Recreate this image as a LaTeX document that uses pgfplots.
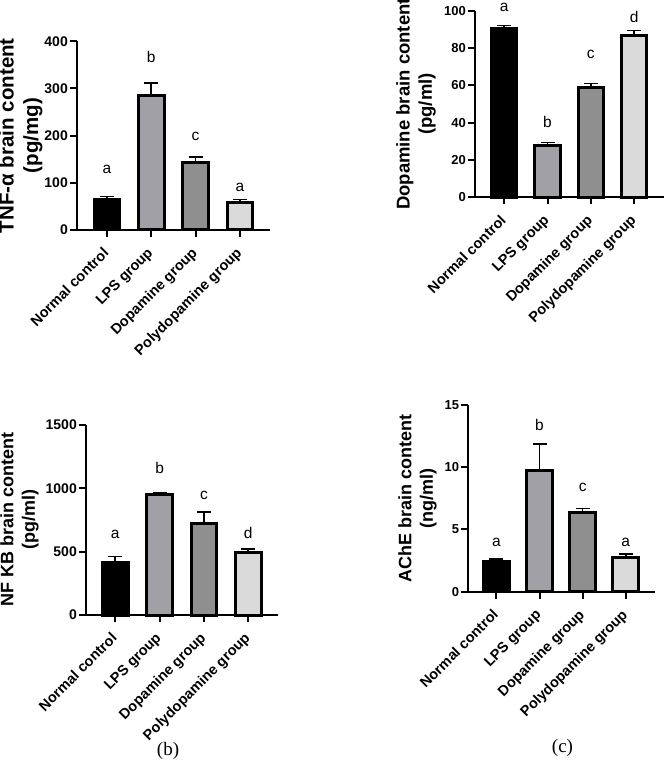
\documentclass[border=0pt]{standalone}
\usepackage{fontspec}
\setmainfont{Liberation Sans}
\newfontfamily\seriffont{Liberation Serif}
\usepackage{pgfplots}
\pgfplotsset{compat=1.18}

\definecolor{barLPS}{RGB}{160,160,166}
\definecolor{barDopa}{RGB}{143,143,143}
\definecolor{barPoly}{RGB}{218,218,218}

\newcommand{\sz}[1]{\fontsize{#1}{1.2\dimexpr #1pt\relax}\selectfont}

\pgfplotsset{
  brainpanel/.style={
    scale only axis,
    anchor=south west,
    clip=false,
    axis x line*=bottom,
    axis y line*=left,
    axis line style={line width=2pt, black, -},
    tick style={line width=2pt, black},
    tick align=outside,
    major tick length=7pt,
    ymin=0,
    xtick={0,1,2,3},
    xticklabels={Normal control, LPS group, Dopamine group, Polydopamine group},
    x tick label style={xshift=-5pt, yshift=-8pt, rotate=45, anchor=north east,
      font=\sz{14.5}\bfseries, inner sep=1pt},
    y tick label style={inner sep=2pt},
    /pgf/number format/assume math mode=true,
    /pgf/number format/1000 sep={},
    scaled y ticks=false,
    ylabel style={anchor=center, align=center},
  },
  grpbar/.style={
    ybar, bar shift=0pt, bar width=25.5pt, draw=black, line width=3pt, fill=#1,
    error bars/y dir=plus,
    error bars/y explicit,
    error bars/error bar style={line width=1.6pt, black},
    error bars/error mark options={rotate=90, mark size=7pt, line width=1.6pt, black},
  },
  letters/.style={
    draw=none, mark=none, nodes near coords, point meta=explicit symbolic,
    nodes near coords style={anchor=base, inner sep=0pt, font=\sz{15.5}, text=black},
  },
}

\begin{document}
\begin{tikzpicture}
\useasboundingbox (0,0) rectangle (664pt,763pt);

% TNF-alpha
\begin{axis}[brainpanel, at={(77pt,533pt)}, width=193pt, height=188.8pt,
  xmin=-0.677, xmax=3.68, ymax=400, ytick={0,100,200,300,400},
  y tick label style={font=\sz{14}\bfseries},
  ylabel={TNF-α brain content\\(pg/mg)},
  ylabel style={at={(axis description cs:-0.292,0.5)}, font=\sz{20.5}\bfseries}]
\addplot[grpbar=black]   coordinates {(0,64) +- (0,7)};
\addplot[grpbar=barLPS]  coordinates {(1,286) +- (0,26)};
\addplot[grpbar=barDopa] coordinates {(2,143) +- (0,12)};
\addplot[grpbar=barPoly] coordinates {(3,58) +- (0,7)};
\addplot[letters] table[meta=lbl] {
x y lbl
0 120 a
1 354 b
2 189 c
3 82.6 a
};
\end{axis}

% Dopamine
\begin{axis}[brainpanel, at={(475pt,565.7pt)}, width=189pt, height=186.6pt,
  xmin=-0.674, xmax=3.69, ymax=100, ytick={0,20,40,60,80,100},
  y tick label style={font=\sz{13}\bfseries},
  ylabel={Dopamine brain content\\(pg/ml)},
  ylabel style={at={(axis description cs:-0.312,0.5)}, font=\sz{18.5}\bfseries}]
\addplot[grpbar=black]   coordinates {(0,90.5) +- (0,1.5)};
\addplot[grpbar=barLPS]  coordinates {(1,27.5) +- (0,1.8)};
\addplot[grpbar=barDopa] coordinates {(2,59) +- (0,2)};
\addplot[grpbar=barPoly] coordinates {(3,86.8) +- (0,2.5)};
\addplot[letters] table[meta=lbl] {
x y lbl
0 99.6 a
1 37.5 b
2 74.5 c
3 93.7 d
};
\end{axis}

% NF-kB
\begin{axis}[brainpanel, at={(86pt,148pt)}, width=192pt, height=190.2pt,
  xmin=-0.66, xmax=3.67, ymax=1500, ytick={0,500,1000,1500},
  y tick label style={font=\sz{14}\bfseries},
  ylabel={NF KB brain content\\(pg/ml)},
  ylabel style={at={(axis description cs:-0.346,0.5)}, font=\sz{18}\bfseries}]
\addplot[grpbar=black]   coordinates {(0,415) +- (0,45)};
\addplot[grpbar=barLPS]  coordinates {(1,948) +- (0,12)};
\addplot[grpbar=barDopa] coordinates {(2,722) +- (0,88)};
\addplot[grpbar=barPoly] coordinates {(3,494) +- (0,26)};
\addplot[letters] table[meta=lbl] {
x y lbl
0 605 a
1 1112 b
2 912 c
3 605 d
};
\end{axis}

% AChE
\begin{axis}[brainpanel, at={(468.3pt,171.3pt)}, width=186.7pt, height=186.7pt,
  xmin=-0.654, xmax=3.68, ymax=15, ytick={0,5,10,15},
  y tick label style={font=\sz{13}\bfseries},
  ylabel={AChE brain content\\(ng/ml)},
  ylabel style={at={(axis description cs:-0.272,0.5)}, font=\sz{18}\bfseries}]
\addplot[grpbar=black]   coordinates {(0,2.4) +- (0,0.25)};
\addplot[grpbar=barLPS]  coordinates {(1,9.75) +- (0,2.1)};
\addplot[grpbar=barDopa] coordinates {(2,6.35) +- (0,0.35)};
\addplot[grpbar=barPoly] coordinates {(3,2.78) +- (0,0.27)};
\addplot[letters] table[meta=lbl] {
x y lbl
0 3.63 a
1 12.93 b
2 8.04 c
3 3.63 a
};
\end{axis}

\node[font=\seriffont\sz{19}] at (168pt,12pt) {(b)};
\node[font=\seriffont\sz{19}] at (562.5pt,15pt) {(c)};
\end{tikzpicture}
\end{document}
